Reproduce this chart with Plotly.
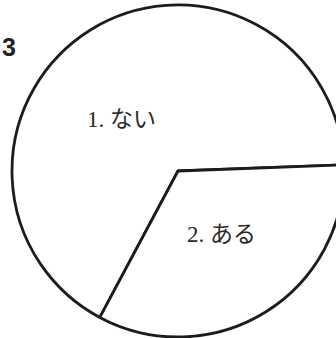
import plotly.graph_objects as go

# Data
categories = ["1. ない", "2. ある"]
values = [66.6, 33.4]
figure_number = "3"

W, H = 346, 338
cx, cy, r = 178, 171, 166

fig = go.Figure()
fig.add_trace(go.Pie(
    labels=categories,
    values=values,
    sort=False,
    direction="clockwise",
    rotation=208.1,
    textinfo="none",
    hoverinfo="label+percent",
    marker=dict(colors=["white", "white"], line=dict(color="#1c1c1c", width=2.8)),
    domain=dict(x=[(cx - r) / W, (cx + r) / W], y=[(H - cy - r) / H, (H - cy + r) / H]),
    showlegend=False,
))

label_pos = [(121, 119), (222, 234)]
for txt, (x, y) in zip(categories, label_pos):
    fig.add_annotation(
        x=x / W, y=1 - y / H, xref="paper", yref="paper",
        xanchor="center", yanchor="middle",
        text=txt, showarrow=False,
        font=dict(family="Liberation Serif, Noto Sans CJK JP", size=23, color="#2a2a2a"),
    )

fig.add_annotation(
    x=9 / W, y=1 - 47 / H, xref="paper", yref="paper",
    xanchor="center", yanchor="middle",
    text="<b>" + figure_number + "</b>", showarrow=False,
    font=dict(family="Liberation Sans Narrow, Liberation Sans, Arial", size=25, color="#222222"),
)

fig.update_layout(
    width=W, height=H,
    margin=dict(l=0, r=0, t=0, b=0),
    paper_bgcolor="white", plot_bgcolor="white",
)

fig.write_html(
    "out.html",
    config={"displayModeBar": False},
    post_script="document.documentElement.style.overflow='hidden';document.body.style.overflow='hidden';document.body.style.margin='0';",
)
